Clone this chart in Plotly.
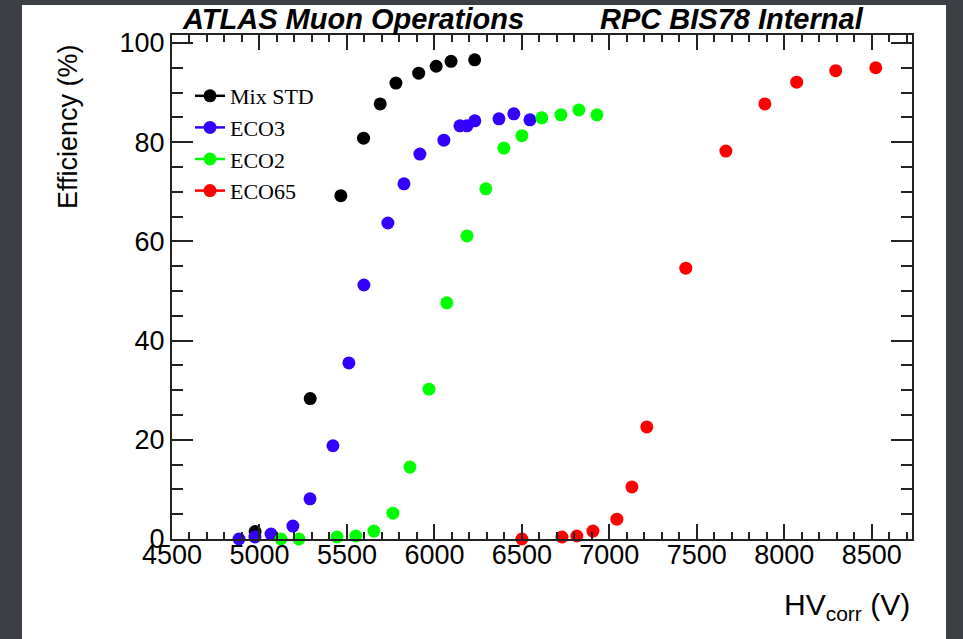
import plotly.graph_objects as go

# ---------------- data ----------------
mix_hv = [4975, 5290, 5465, 5595, 5690, 5780, 5910, 6010, 6095, 6230]
mix_eff = [1.5, 28.3, 69.2, 80.8, 87.7, 91.9, 93.9, 95.3, 96.3, 96.6]

eco3_hv = [4883, 4974, 5066, 5191, 5289, 5420, 5511, 5597, 5734, 5826, 5917,
           6054, 6146, 6186, 6231, 6369, 6454, 6546]
eco3_eff = [0.0, 0.4, 1.0, 2.6, 8.1, 18.8, 35.5, 51.2, 63.7, 71.6, 77.6,
            80.4, 83.3, 83.3, 84.3, 84.7, 85.7, 84.5]

eco2_hv = [5123, 5226, 5443, 5551, 5654, 5763, 5860, 5969, 6071, 6186, 6294,
           6397, 6500, 6614, 6723, 6826, 6929]
eco2_eff = [0.0, 0.0, 0.4, 0.6, 1.6, 5.2, 14.5, 30.2, 47.6, 61.1, 70.6,
            78.8, 81.3, 84.9, 85.5, 86.5, 85.5]

eco65_hv = [6500, 6729, 6814, 6906, 7043, 7129, 7214, 7437, 7666, 7889, 8071,
            8294, 8523]
eco65_eff = [0.0, 0.4, 0.6, 1.6, 4.0, 10.5, 22.6, 54.6, 78.2, 87.7, 92.1,
             94.4, 95.0]

series_names = ["Mix STD", "ECO3", "ECO2", "ECO65"]
series_colors = ["#000000", "#3300ff", "#00ff00", "#ff0000"]
series_x = [mix_hv, eco3_hv, eco2_hv, eco65_hv]
series_y = [mix_eff, eco3_eff, eco2_eff, eco65_eff]

x_range = [4500, 8730]
y_range = [0, 101.6]

# ---------------- layout geometry (pixels) ----------------
W, H = 963, 639
L, R, T, B = 172, 912, 35, 539


def pxx(px):
    return (px - L) / (R - L)


def pxy(py):
    return (B - py) / (B - T)


fig = go.Figure()

for name, col, xs, ys in zip(series_names, series_colors, series_x, series_y):
    fig.add_trace(go.Scatter(
        x=xs, y=ys, mode="markers", name=name, showlegend=False,
        marker=dict(size=13, color=col, line=dict(width=0)),
        cliponaxis=False,
    ))
    # legend entry with line + marker
    fig.add_trace(go.Scatter(
        x=[None], y=[None], mode="lines+markers", name=name,
        line=dict(color=col, width=2.5),
        marker=dict(size=13, color=col, line=dict(width=0)),
    ))

axis_common = dict(
    showgrid=False, zeroline=False, showline=True, linecolor="#222222",
    linewidth=2, mirror="ticks", ticks="inside", tickcolor="#222222",
    tickwidth=2,
    tickfont=dict(family="Liberation Sans, Arial, sans-serif", size=27,
                  color="#000000"),
)

fig.update_xaxes(
    range=x_range, dtick=500, tick0=4500, ticklen=15,
    ticklabelstandoff=-9,
    minor=dict(dtick=100, ticklen=7, tickwidth=2, ticks="inside",
               tickcolor="#222222"),
    **axis_common,
)
fig.update_yaxes(
    range=y_range, dtick=20, tick0=0, ticklen=21,
    minor=dict(dtick=5, ticklen=11, tickwidth=2, ticks="inside",
               tickcolor="#222222"),
    **axis_common,
)

# white page over dark frame
fig.add_shape(type="rect", xref="paper", yref="paper",
              x0=pxx(22), x1=pxx(946), y0=pxy(5), y1=pxy(H + 5),
              fillcolor="#ffffff", line=dict(width=0), layer="below")

title_font = dict(family="Liberation Sans, Arial, sans-serif", size=29,
                  color="#000000")
fig.add_annotation(xref="paper", yref="paper", x=pxx(180), y=pxy(19),
                   xanchor="left", yanchor="middle", showarrow=False,
                   text="<b><i>ATLAS Muon Operations</i></b>", font=title_font)
fig.add_annotation(xref="paper", yref="paper", x=pxx(598), y=pxy(19),
                   xanchor="left", yanchor="middle", showarrow=False,
                   text="<b><i>RPC BIS78 Internal</i></b>", font=title_font)

fig.add_annotation(xref="paper", yref="paper", x=pxx(912), y=pxy(606),
                   xanchor="right", yanchor="middle", showarrow=False,
                   text="HV<sub>corr</sub> (V)",
                   font=dict(family="Liberation Sans, Arial, sans-serif",
                             size=30, color="#000000"))
fig.add_annotation(xref="paper", yref="paper", x=pxx(68), y=pxy(127),
                   xanchor="center", yanchor="middle", showarrow=False,
                   textangle=-90, text="Efficiency (%)",
                   font=dict(family="Liberation Sans, Arial, sans-serif",
                             size=27, color="#000000"))

fig.update_layout(
    width=W, height=H, autosize=False,
    margin=dict(l=L, r=W - R, t=T, b=H - B, pad=0),
    paper_bgcolor="#3c3f44", plot_bgcolor="#ffffff",
    legend=dict(x=pxx(190), y=pxy(75), xanchor="left", yanchor="top",
                bgcolor="rgba(0,0,0,0)", borderwidth=0,
                font=dict(family="Liberation Serif, Times New Roman, serif",
                          size=22, color="#000000"),
                itemwidth=30, tracegroupgap=0),
    showlegend=True,
)

fig.write_html("out.html")
